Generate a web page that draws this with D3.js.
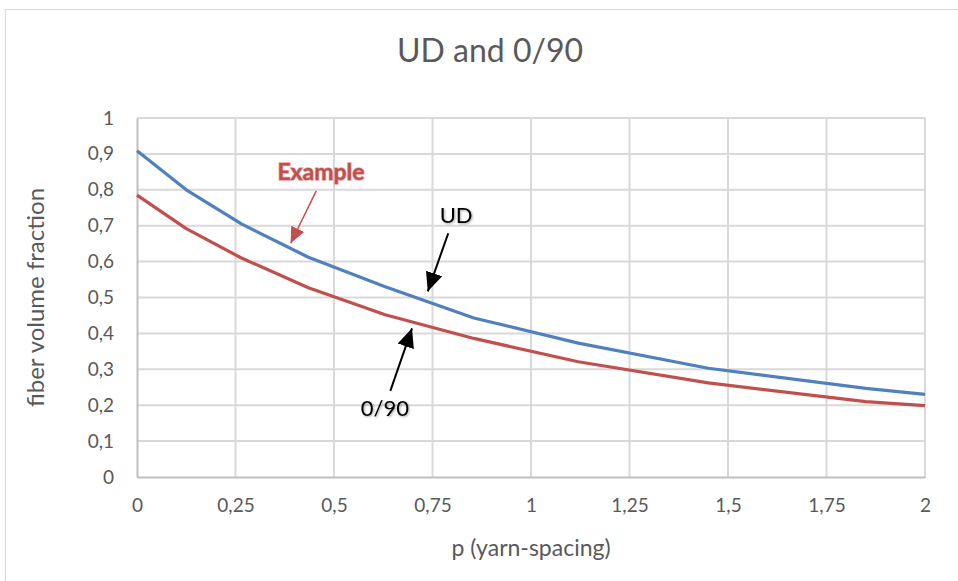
<!DOCTYPE html>
<html>
<head>
<meta charset="utf-8">
<script src="https://cdn.jsdelivr.net/npm/d3@7"></script>
<style>
  html, body { margin: 0; padding: 0; background: #fff; }
  svg { display: block; font-family: Lato, "Open Sans", "Liberation Sans", sans-serif; }
</style>
</head>
<body>
<svg id="chart" width="958" height="581"></svg>
<script>
// ---- data ----
const pValues   = [0, 0.125, 0.265, 0.435, 0.63, 0.855, 1.12, 1.45, 1.85, 2.0];
const udValues  = [0.909, 0.80, 0.705, 0.612, 0.53, 0.443, 0.373, 0.303, 0.247, 0.23];
const cpValues  = [0.785, 0.692, 0.61, 0.527, 0.452, 0.386, 0.321, 0.262, 0.21, 0.199];
const xTicks    = [0, 0.25, 0.5, 0.75, 1, 1.25, 1.5, 1.75, 2];
const yTicks    = [0, 0.1, 0.2, 0.3, 0.4, 0.5, 0.6, 0.7, 0.8, 0.9, 1];
const titleText = "UD and 0/90";
const xLabel    = "p (yarn-spacing)";
const yLabel    = "fiber volume fraction";
// annotations: label position and arrow from (p,v) to (p,v)
const notes = [
  {text: "Example", tx: 0.467, ty: 0.850, from: [0.455, 0.797], to: [0.39, 0.651], color: "#C0504D", bold: true},
  {text: "UD",      tx: 0.810, ty: 0.728, from: [0.790, 0.679], to: [0.738, 0.517], color: "#000", bold: false},
  {text: "0/90",    tx: 0.629, ty: 0.192, from: [0.643, 0.240], to: [0.698, 0.414], color: "#000", bold: false}
];

const fmt = v => String(v).replace(".", ",");

const svg = d3.select("#chart");
const plot = {left: 137, right: 925, top: 118, bottom: 477};

// chart area border
svg.append("rect").attr("x", 5.5).attr("y", 9.5).attr("width", 960).attr("height", 600)
  .attr("fill", "#fff").attr("stroke", "#d9d9d9").attr("stroke-width", 1);

const x = d3.scaleLinear().domain([0, 2]).range([plot.left, plot.right]);
const y = d3.scaleLinear().domain([0, 1]).range([plot.bottom, plot.top]);

const defs = svg.append("defs");
const sh = defs.append("filter").attr("id", "shadow").attr("x", "-20%").attr("y", "-20%").attr("width", "140%").attr("height", "140%");
sh.append("feDropShadow").attr("dx", 1).attr("dy", 1).attr("stdDeviation", 0.8).attr("flood-color", "#000").attr("flood-opacity", 0.35);

["black", "red"].forEach(k => {
  defs.append("marker").attr("id", "arrow-" + k)
    .attr("viewBox", "0 0 10 10").attr("refX", 10).attr("refY", 5)
    .attr("markerWidth", k === "red" ? 16 : 19).attr("markerHeight", k === "red" ? 16 : 19)
    .attr("markerUnits", "userSpaceOnUse")
    .attr("orient", "auto")
    .append("path").attr("d", "M0,0.5 L10,5 L0,9.5 z")
    .attr("fill", k === "red" ? "#C0504D" : "#000");
});

// gridlines
const gx = svg.append("g");
gx.selectAll("line.h").data(yTicks.filter(d => d > 0)).join("line")
  .attr("x1", plot.left).attr("x2", plot.right)
  .attr("y1", d => y(d)).attr("y2", d => y(d))
  .attr("stroke", "#d9d9d9").attr("stroke-width", 2);
gx.selectAll("line.v").data(xTicks.filter(d => d > 0)).join("line")
  .attr("y1", plot.top).attr("y2", plot.bottom)
  .attr("x1", d => x(d)).attr("x2", d => x(d))
  .attr("stroke", "#d9d9d9").attr("stroke-width", 2);

// axes via d3
const xAxis = svg.append("g").attr("transform", `translate(0,${plot.bottom})`)
  .call(d3.axisBottom(x).tickValues(xTicks).tickFormat(fmt).tickSize(0).tickPadding(22));
const yAxis = svg.append("g").attr("transform", `translate(${plot.left},0)`)
  .call(d3.axisLeft(y).tickValues(yTicks).tickFormat(fmt).tickSize(0).tickPadding(23));
[xAxis, yAxis].forEach(a => {
  a.select(".domain").attr("stroke", "#bfbfbf").attr("stroke-width", 2);
  a.selectAll("text").attr("fill", "#595959").attr("font-size", 19).attr("font-family", "Lato, 'Open Sans', sans-serif");
});
xAxis.selectAll("text").attr("dy", "0.71em");

// lines
const line = d3.line().x((d, i) => x(pValues[i])).y(d => y(d));
svg.append("path").datum(cpValues).attr("d", line)
  .attr("fill", "none").attr("stroke", "#C0504D").attr("stroke-width", 3.2).attr("stroke-linejoin", "round");
svg.append("path").datum(udValues).attr("d", line)
  .attr("fill", "none").attr("stroke", "#4F81BD").attr("stroke-width", 3.2).attr("stroke-linejoin", "round");

// title
svg.append("text").attr("x", 490).attr("y", 62).attr("text-anchor", "middle")
  .attr("font-size", 32).attr("fill", "#595959").text(titleText);

// axis labels
svg.append("text").attr("x", x(1)).attr("y", 556).attr("text-anchor", "middle")
  .attr("font-size", 23).attr("fill", "#595959").text(xLabel);
svg.append("text").attr("transform", `translate(44,${(plot.top + plot.bottom) / 2}) rotate(-90)`)
  .attr("text-anchor", "middle").attr("font-size", 24).attr("fill", "#595959").text(yLabel);

// annotations
notes.forEach(n => {
  svg.append("line")
    .attr("x1", x(n.from[0])).attr("y1", y(n.from[1]))
    .attr("x2", x(n.to[0])).attr("y2", y(n.to[1]))
    .attr("stroke", n.color).attr("stroke-width", n.bold ? 1.5 : 2)
    .attr("marker-end", `url(#arrow-${n.bold ? "red" : "black"})`);
  const t = svg.append("text").attr("x", x(n.tx)).attr("y", y(n.ty)).attr("text-anchor", "middle")
    .attr("dy", "0.35em").attr("font-size", n.bold ? 23 : 22).attr("fill", n.color)
    .attr("font-weight", n.bold ? "bold" : "normal").text(n.text);
  if (n.bold) {
    t.attr("stroke", "#e8a5a3").attr("stroke-width", 1.4).attr("paint-order", "stroke")
     .attr("fill", "#C0504D");
  } else {
    t.attr("filter", "url(#shadow)");
  }
});
</script>
</body>
</html>
